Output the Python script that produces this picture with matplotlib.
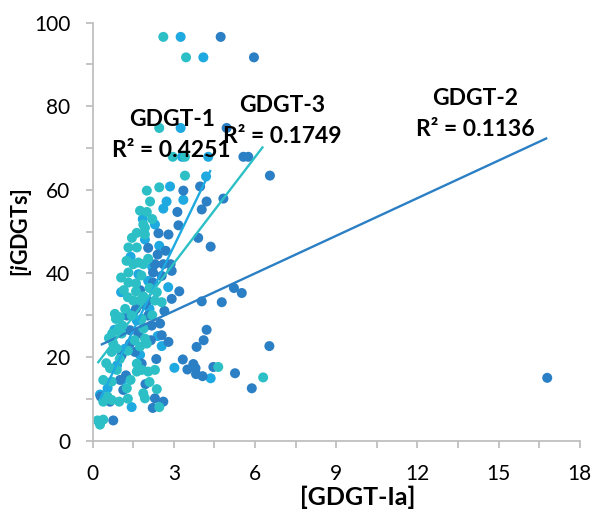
import matplotlib
matplotlib.use("Agg")
import matplotlib.pyplot as plt
import numpy as np

plt.rcParams['font.family'] = ['Lato', 'DejaVu Sans']
plt.rcParams['mathtext.fontset'] = 'custom'
plt.rcParams['mathtext.it'] = 'Lato:italic:bold'
plt.rcParams['mathtext.rm'] = 'Lato:bold'
plt.rcParams['mathtext.bf'] = 'Lato:bold'

# ---- data: [GDGT-Ia] vs [iGDGTs] for each isoprenoid GDGT ----
series_names = ["GDGT-1", "GDGT-2", "GDGT-3"]

gdgt1_x = [0.27, 3.25, 4.09, 3.25, 3.30, 4.27, 4.19, 2.86, 2.73, 3.35, 2.61, 2.30, 2.46,
           1.93, 1.69, 2.05, 2.79, 1.63, 3.02, 4.36, 1.44, 2.55, 1.20, 0.90, 1.50, 1.90,
           0.55, 1.05, 1.40, 2.20, 1.75, 2.10, 0.80, 1.10, 2.40, 1.85]
gdgt1_y = [11.0, 96.6, 91.7, 74.8, 67.9, 67.9, 63.2, 60.8, 57.2, 57.6, 55.5, 51.7, 46.6,
           48.1, 39.8, 38.2, 36.7, 28.7, 17.4, 14.9, 8.0, 22.6, 22.0, 18.0, 30.5, 27.0,
           12.5, 35.5, 44.0, 41.5, 20.5, 31.5, 26.5, 14.5, 25.0, 53.0]

gdgt2_x = [0.30, 4.73, 5.96, 4.95, 5.57, 5.75, 6.55, 3.35, 3.97, 4.21, 4.83, 3.13, 4.03,
           3.17, 2.80, 2.43, 2.05, 4.36, 3.90, 2.30, 2.61, 2.88, 2.23, 2.23, 2.92, 3.20,
           2.02, 4.03, 4.77, 5.22, 5.51, 2.55, 2.92, 1.26, 2.05, 2.18, 1.38, 1.69, 2.49,
           2.55, 2.80, 1.38, 1.56, 1.07, 1.81, 1.01, 1.23, 1.13, 2.30, 2.61, 2.22, 0.64,
           0.76, 4.21, 4.10, 3.84, 6.53, 3.33, 3.72, 3.80, 3.50, 3.82, 4.06, 4.46, 5.26,
           5.88, 16.80, 1.90, 1.75, 2.40, 2.70, 1.60, 2.35, 1.95, 2.65, 2.15]
gdgt2_y = [10.5, 96.6, 91.7, 74.8, 67.9, 67.9, 63.4, 59.8, 60.8, 57.2, 57.9, 54.7, 55.3,
           51.5, 49.3, 49.6, 46.1, 46.4, 48.5, 42.2, 42.2, 42.2, 40.2, 37.8, 33.9, 35.7,
           33.5, 33.3, 33.1, 36.5, 35.3, 39.4, 40.6, 29.9, 29.9, 27.5, 26.4, 25.6, 28.0,
           25.2, 23.6, 23.2, 21.2, 20.4, 18.4, 14.5, 15.6, 12.1, 10.1, 9.3, 7.8, 9.3,
           4.8, 26.5, 24.0, 22.4, 22.6, 19.4, 18.3, 17.3, 17.0, 15.9, 15.4, 17.6, 16.1,
           12.5, 15.0, 32.5, 36.0, 44.5, 45.4, 31.5, 19.5, 13.5, 31.0, 24.0]

gdgt3_x = [0.18, 2.61, 3.45, 2.46, 2.96, 3.41, 3.41, 2.00, 2.46, 2.12, 2.00, 1.87, 1.63,
           1.93, 1.93, 1.32, 1.63, 1.50, 1.69, 1.87, 1.32, 1.32, 1.60, 1.30, 1.50, 1.75,
           1.60, 1.87, 2.30, 2.55, 2.37, 0.82, 0.86, 1.01, 1.44, 1.81, 0.72, 1.07, 0.95,
           1.87, 2.00, 1.93, 0.76, 0.89, 0.70, 0.64, 0.89, 0.39, 0.70, 1.63, 1.63, 1.81,
           2.05, 2.30, 1.26, 2.37, 1.93, 1.87, 2.46, 0.39, 0.70, 0.98, 0.39, 0.27, 4.64,
           6.30, 1.75, 2.20, 1.45, 1.15, 1.20, 2.10, 1.00, 1.30, 2.20, 1.10, 0.60, 1.55,
           1.75, 0.50, 1.40, 2.10, 0.55, 1.30, 1.05, 1.80, 2.05, 1.25]
gdgt3_y = [4.8, 96.6, 91.7, 74.8, 67.9, 67.9, 63.4, 59.8, 60.6, 57.2, 54.7, 51.7, 49.7,
           50.9, 49.3, 46.2, 46.2, 42.2, 42.6, 42.2, 40.2, 37.8, 37.6, 34.3, 33.5, 33.5,
           35.7, 34.5, 33.5, 33.1, 35.5, 30.3, 29.1, 29.5, 29.9, 29.1, 25.6, 25.6, 26.8,
           26.8, 23.2, 24.4, 23.2, 22.0, 21.2, 17.3, 16.9, 14.5, 14.1, 18.4, 16.5, 16.9,
           16.5, 16.9, 12.5, 12.3, 10.1, 11.3, 8.0, 9.3, 9.7, 9.3, 5.0, 3.8, 17.6,
           15.1, 55.0, 53.0, 48.5, 36.0, 31.5, 36.5, 19.5, 21.5, 30.0, 27.5, 24.5, 24.0,
           22.5, 18.5, 14.5, 14.0, 10.5, 10.0, 39.0, 39.5, 43.5, 43.0]

# linear trend lines (slope, intercept) and coefficients of determination
trend_slope = [13.4, 3.0, 8.47]
trend_intercept = [6.3, 22.0, 17.0]
r_squared = [0.4251, 0.1136, 0.1749]

x_ticks = [0, 3, 6, 9, 12, 15, 18]
y_ticks = [0, 20, 40, 60, 80, 100]

# ---- styling ----
colors = ["#1FA9E1", "#2B7FC4", "#2CC0C6"]
axis_grey = "#BFBFBF"

fig = plt.figure(figsize=(5.95, 5.13), dpi=100)
ax = fig.add_axes([0.1558, 0.1413, 0.9743 - 0.1558, 0.9558 - 0.1413])

xs = [gdgt1_x, gdgt2_x, gdgt3_x]
ys = [gdgt1_y, gdgt2_y, gdgt3_y]

for x, y, c in zip(xs, ys, colors):
    ax.scatter(x, y, s=52, color=c, edgecolors='none', zorder=2)

for x, m, b, c in zip(xs, trend_slope, trend_intercept, colors):
    xl = np.array([min(x), max(x)])
    ax.plot(xl, m * xl + b, color=c, lw=1.7, zorder=3, solid_capstyle='butt')

ax.set_xlim(0, 18)
ax.set_ylim(0, 100)
ax.set_xticks(x_ticks)
ax.set_yticks(y_ticks)
ax.set_xticks(np.arange(0, 18.1, 1.5), minor=True)
ax.set_yticks(np.arange(0, 100.1, 10), minor=True)

for side in ['top', 'right']:
    ax.spines[side].set_visible(False)
for side in ['left', 'bottom']:
    ax.spines[side].set_color(axis_grey)
    ax.spines[side].set_linewidth(1.3)

ax.tick_params(which='both', direction='out', color=axis_grey, width=1.3, length=5.0)
ax.tick_params(axis='both', which='major', labelsize=15, labelcolor='black')
ax.tick_params(axis='x', which='major', pad=12)
ax.tick_params(axis='y', which='major', pad=11)

ax.set_xlabel("[GDGT-Ia]", fontsize=18, fontweight='bold')
ax.xaxis.set_label_coords(0.544, -0.137)
ax.xaxis.label.set_va('center')
ax.set_ylabel(r"[$\mathit{i}$GDGTs]", fontsize=15.5, fontweight='bold')
ax.yaxis.set_label_coords(-0.1458, 0.498)
ax.yaxis.label.set_va('center')

# trend-line annotations: (x, name baseline, R² baseline) in data units
label_x = [2.92, 14.13, 6.99]
name_base = [75.2, 80.3, 78.7]
r2_base = [67.8, 72.8, 71.1]
for name, r2, lx, ny, ry in zip(series_names, r_squared, label_x, name_base, r2_base):
    ax.text(lx, ny, name, ha='center', va='baseline',
            fontsize=16.5, fontweight='bold', zorder=4)
    ax.text(lx, ry, f"R\u00b2 = {r2:.4f}", ha='center', va='baseline',
            fontsize=16.5, fontweight='bold', zorder=4)

fig.savefig("out.png", dpi=100)
